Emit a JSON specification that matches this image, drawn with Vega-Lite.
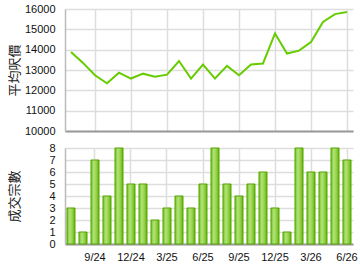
{
  "$schema": "https://vega.github.io/schema/vega-lite/v6.json",
  "padding": {"top": 3, "left": 7, "right": 5, "bottom": 5},
  "background": "white",
  "spacing": 17,
  "bounds": "flush",
  "config": {
    "view": {"stroke": null},
    "axis": {
      "labelFont": "Liberation Sans",
      "labelFontSize": 11,
      "labelColor": "#111111",
      "titleFont": "Noto Sans CJK TC",
      "titleFontSize": 13,
      "titleFontWeight": "normal",
      "titleColor": "#222222",
      "gridColor": "#dddddd",
      "gridWidth": 1.5
    }
  },
  "data": {
    "values": [
      {"m": "7/24", "price": 13880, "n": 3},
      {"m": "8/24", "price": 13350, "n": 1},
      {"m": "9/24", "price": 12740, "n": 7},
      {"m": "10/24", "price": 12350, "n": 4},
      {"m": "11/24", "price": 12870, "n": 8},
      {"m": "12/24", "price": 12580, "n": 5},
      {"m": "1/25", "price": 12820, "n": 5},
      {"m": "2/25", "price": 12670, "n": 2},
      {"m": "3/25", "price": 12770, "n": 3},
      {"m": "4/25", "price": 13440, "n": 4},
      {"m": "5/25", "price": 12580, "n": 3},
      {"m": "6/25", "price": 13270, "n": 5},
      {"m": "7/25", "price": 12580, "n": 8},
      {"m": "8/25", "price": 13200, "n": 5},
      {"m": "9/25", "price": 12740, "n": 4},
      {"m": "10/25", "price": 13270, "n": 5},
      {"m": "11/25", "price": 13320, "n": 6},
      {"m": "12/25", "price": 14800, "n": 3},
      {"m": "1/26", "price": 13810, "n": 1},
      {"m": "2/26", "price": 13950, "n": 8},
      {"m": "3/26", "price": 14380, "n": 6},
      {"m": "4/26", "price": 15360, "n": 6},
      {"m": "5/26", "price": 15750, "n": 8},
      {"m": "6/26", "price": 15850, "n": 7}
    ]
  },
  "vconcat": [
    {
      "width": 288,
      "height": 122,
      "mark": {"type": "line", "color": "#66cc00", "strokeWidth": 2},
      "encoding": {
        "x": {
          "field": "m", "type": "nominal", "sort": null,
          "scale": {"type": "point", "padding": 0.5},
          "axis": {
            "title": null, "labels": false, "ticks": false, "grid": true,
            "values": ["9/24", "12/24", "3/25", "6/25", "9/25", "12/25", "3/26", "6/26"],
            "domainColor": "#999999", "domainWidth": 2
          }
        },
        "y": {
          "field": "price", "type": "quantitative",
          "scale": {"domain": [10000, 16000], "nice": false},
          "axis": {
            "title": "平均呎價", "values": [10000, 11000, 12000, 13000, 14000, 15000, 16000],
            "format": "d",
            "ticks": false, "labelPadding": 10, "titleX": -51, "titleBaseline": "middle",
            "domainColor": "#bbbbbb", "domainWidth": 1.5
          }
        }
      }
    },
    {
      "width": 288,
      "height": 96,
      "mark": {
        "type": "bar",
        "stroke": "#58a800",
        "strokeWidth": 1,
        "color": {
          "x1": 0, "y1": 0, "x2": 1, "y2": 0,
          "gradient": "linear",
          "stops": [
            {"offset": 0, "color": "#6cc020"},
            {"offset": 0.35, "color": "#b2e478"},
            {"offset": 0.7, "color": "#8fd044"},
            {"offset": 1, "color": "#5eae08"}
          ]
        }
      },
      "encoding": {
        "x": {
          "field": "m", "type": "nominal", "sort": null,
          "scale": {"type": "band", "paddingInner": 0.33, "paddingOuter": 0.165},
          "axis": {
            "title": null, "labelAngle": 0, "ticks": false, "grid": true, "bandPosition": 0.5,
            "values": ["9/24", "12/24", "3/25", "6/25", "9/25", "12/25", "3/26", "6/26"],
            "labelPadding": 7, "domainColor": "#999999", "domainWidth": 2
          }
        },
        "y": {
          "field": "n", "type": "quantitative",
          "scale": {"domain": [0, 8], "nice": false},
          "axis": {
            "title": "成交宗數", "values": [0, 1, 2, 3, 4, 5, 6, 7, 8],
            "ticks": false, "labelPadding": 10, "titleX": -51, "titleBaseline": "middle",
            "domainColor": "#bbbbbb", "domainWidth": 1.5
          }
        }
      }
    }
  ]
}
